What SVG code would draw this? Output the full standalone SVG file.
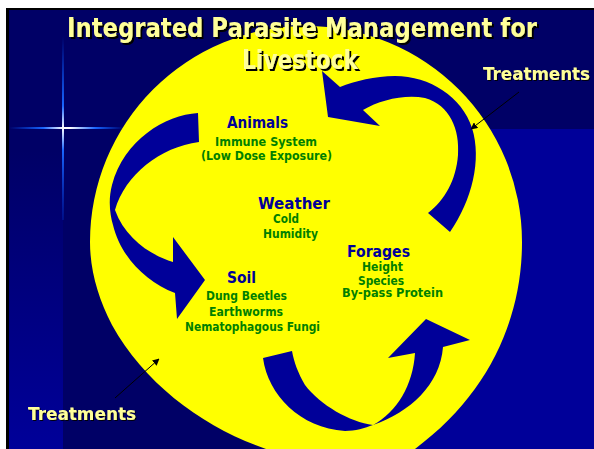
<svg xmlns="http://www.w3.org/2000/svg" width="594" height="449" viewBox="0 0 594 449">
  <defs>
    <style>
      .title { font-family: "Comic Sans MS", "DejaVu Sans", sans-serif; font-weight: bold; font-size: 27px; fill: #FFFF99; filter: url(#dropBig); }
      .callout { font-family: "Comic Sans MS", "DejaVu Sans", sans-serif; font-weight: bold; font-size: 17px; fill: #FFFF99; filter: url(#dropSmall); }
      .head { font-family: "Comic Sans MS", "DejaVu Sans", sans-serif; font-weight: bold; font-size: 16px; fill: #000099; }
      .item { font-family: "Comic Sans MS", "DejaVu Sans", sans-serif; font-weight: bold; font-size: 12px; fill: #008000; }
      .band { fill: #000099; }
      .leader { stroke: #000000; stroke-width: 1; fill: none; marker-end: url(#tip); }
    </style>
    <filter id="dropBig" x="-5%" y="-40%" width="112%" height="180%">
      <feDropShadow dx="2" dy="2" stdDeviation="0.3" flood-color="#000000" flood-opacity="1"/>
    </filter>
    <filter id="dropSmall" x="-5%" y="-40%" width="112%" height="180%">
      <feDropShadow dx="1" dy="1" stdDeviation="0.3" flood-color="#000000" flood-opacity="0.9"/>
    </filter>
    <marker id="tip" viewBox="0 0 10 10" refX="9" refY="5" markerWidth="7" markerHeight="7" markerUnits="userSpaceOnUse" orient="auto">
      <path d="M0,0 L10,5 L0,10 Z" fill="#000000"/>
    </marker>
    <linearGradient id="strip" x1="0" y1="0" x2="0" y2="1">
      <stop offset="0" stop-color="#000066"/>
      <stop offset="1" stop-color="#000099"/>
    </linearGradient>
    <linearGradient id="glowH" x1="0" y1="0" x2="1" y2="0">
      <stop offset="0" stop-color="#0055ff" stop-opacity="0"/>
      <stop offset="0.3" stop-color="#1a66ff"/>
      <stop offset="0.47" stop-color="#ffffff"/>
      <stop offset="0.53" stop-color="#ffffff"/>
      <stop offset="0.75" stop-color="#1a66ff"/>
      <stop offset="1" stop-color="#0055ff" stop-opacity="0"/>
    </linearGradient>
    <linearGradient id="glowV" x1="0" y1="0" x2="0" y2="1">
      <stop offset="0" stop-color="#0055ff" stop-opacity="0"/>
      <stop offset="0.38" stop-color="#1a66ff"/>
      <stop offset="0.5" stop-color="#ffffff"/>
      <stop offset="0.62" stop-color="#1a66ff"/>
      <stop offset="1" stop-color="#0033cc" stop-opacity="0.3"/>
    </linearGradient>
  </defs>

  <!-- page and frame -->
  <rect x="0" y="0" width="594" height="449" fill="#ffffff"/>
  <rect x="6" y="8" width="588" height="441" fill="#000000"/>
  <rect x="9" y="10" width="585" height="439" fill="#000066"/>
  <rect x="9" y="150" width="54" height="299" fill="url(#strip)"/>
  <rect x="340" y="129" width="254" height="320" fill="#000099"/>

  <!-- star glint -->
  <rect x="9" y="127" width="115" height="2" fill="url(#glowH)"/>
  <rect x="62" y="36" width="2" height="184" fill="url(#glowV)"/>

  <!-- central disc, slightly fuller toward the lower right -->
  <path d="M90,242 A216,216 0 0 1 522,242 C522,320 488,395 415,449 L415,470 L260,470 L266,449 C205,428 145,385 112,325 C98,298 90,270 90,242 Z" fill="#FFFF00"/>

  <g id="connectors">
    <!-- Animals to Soil -->
    <path class="band" d="M198,113 C165,115 124,140 112,185 C108,200 110,215 113,225 C120,255 145,282 175,293 L177,319 L205,280 L173,237 L173,262 C150,255 125,238 115,210 C125,175 160,147 199,142 Z"/>
    <!-- Soil to Forages -->
    <path class="band" d="M263,358 C268,395 300,428 345,431 C355,431 365,428 373,425 C410,412 440,385 443,347 L470,340 L426,319 L388,358 L415,353 C413,385 397,412 373,425 C350,422 320,405 305,385 C298,373 294,362 292,351 Z"/>
    <!-- Forages to Animals -->
    <path class="band" d="M450,232 C472,200 482,160 472,128 C462,97 430,76 395,76 C375,76 355,81 340,87 L322,71 L328,117 L380,126 L363,110 C380,100 405,94 425,98 C450,105 460,130 458,155 C456,180 445,200 428,213 Z"/>
    <!-- treatment leaders -->
    <line class="leader" x1="519" y1="92" x2="471" y2="129"/>
    <line class="leader" x1="115" y1="398" x2="159" y2="359"/>
  </g>

  <g id="title">
    <text class="title" x="67" y="37" textLength="470" lengthAdjust="spacingAndGlyphs">Integrated Parasite Management for</text>
    <text class="title" x="242" y="69" textLength="116" lengthAdjust="spacingAndGlyphs">Livestock</text>
  </g>

  <g id="treatments-top">
    <text class="callout" x="483" y="80" textLength="107" lengthAdjust="spacingAndGlyphs">Treatments</text>
  </g>

  <g id="treatments-bottom">
    <text class="callout" x="28" y="420" textLength="108" lengthAdjust="spacingAndGlyphs">Treatments</text>
  </g>

  <g id="animals">
    <text class="head" x="227" y="128" textLength="61" lengthAdjust="spacingAndGlyphs">Animals</text>
    <text class="item" x="215" y="146" textLength="102" lengthAdjust="spacingAndGlyphs">Immune System</text>
    <text class="item" x="201" y="160" textLength="131" lengthAdjust="spacingAndGlyphs">(Low Dose Exposure)</text>
  </g>

  <g id="weather">
    <text class="head" x="258" y="209" textLength="72" lengthAdjust="spacingAndGlyphs">Weather</text>
    <text class="item" x="273" y="223" textLength="26" lengthAdjust="spacingAndGlyphs">Cold</text>
    <text class="item" x="263" y="238" textLength="55" lengthAdjust="spacingAndGlyphs">Humidity</text>
  </g>

  <g id="soil">
    <text class="head" x="227" y="283" textLength="29" lengthAdjust="spacingAndGlyphs">Soil</text>
    <text class="item" x="206" y="300" textLength="81" lengthAdjust="spacingAndGlyphs">Dung Beetles</text>
    <text class="item" x="209" y="316" textLength="74" lengthAdjust="spacingAndGlyphs">Earthworms</text>
    <text class="item" x="185" y="331" textLength="135" lengthAdjust="spacingAndGlyphs">Nematophagous Fungi</text>
  </g>

  <g id="forages">
    <text class="head" x="347" y="257" textLength="63" lengthAdjust="spacingAndGlyphs">Forages</text>
    <text class="item" x="362" y="271" textLength="41" lengthAdjust="spacingAndGlyphs">Height</text>
    <text class="item" x="358" y="285" textLength="46" lengthAdjust="spacingAndGlyphs">Species</text>
    <text class="item" x="342" y="297" textLength="101" lengthAdjust="spacingAndGlyphs">By-pass Protein</text>
  </g>
</svg>
